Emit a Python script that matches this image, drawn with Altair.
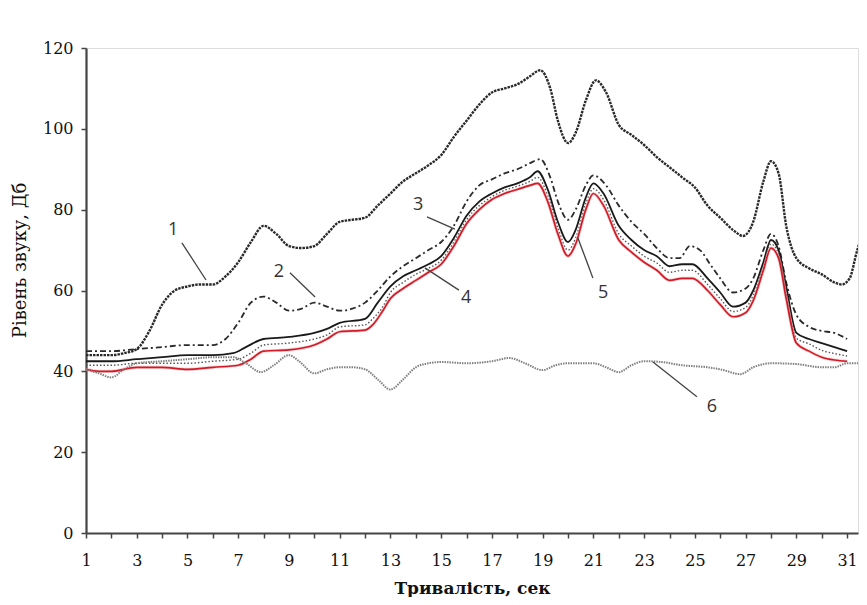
import altair as alt
import pandas as pd

# ---- series data (time, s ; level, dB) ----
t1 = [1, 2, 2.5, 3, 3.5, 4, 4.5, 5, 5.5, 6, 6.5, 7, 7.5, 8, 8.5, 9, 9.5, 10, 10.5, 11,
      11.5, 12, 12.5, 13, 13.5, 14, 14.5, 15, 15.5, 16, 16.5, 17, 17.5, 18, 18.5, 18.9, 19.3, 19.6, 20, 20.3,
      20.7, 21.1, 21.5, 22, 22.5, 23, 23.5, 24, 24.5, 25, 25.5, 26, 26.5, 26.9, 27.3, 27.7, 28, 28.3, 28.6, 29,
      29.5, 30, 30.5, 30.8, 31.1, 31.4, 31.8]
v1 = [44, 44, 44.5, 45.5, 50, 56.5, 60, 61, 61.5, 61.5, 63.5, 67, 72, 76, 74, 71, 70.5, 71, 74, 77,
      77.5, 78, 81, 84, 87, 89, 91, 93.5, 98, 102, 106, 109, 110, 111, 113, 114.5, 110, 102, 96.5, 99,
      107, 112, 109, 101, 98.5, 96, 93, 90.5, 88, 85.5, 81, 78, 75, 73.5, 77, 87, 92, 89, 76, 68,
      65.5, 64, 62, 61.5, 63, 70, 77]

t2 = [1, 2, 3, 4, 5, 6, 6.5, 7, 7.5, 8, 8.5, 9, 9.5, 10, 10.5, 11, 11.5, 12, 12.5, 13,
      13.5, 14, 14.5, 15, 15.5, 16, 16.5, 17, 17.5, 18, 18.5, 18.9, 19.3, 19.6, 20, 20.3, 20.7, 21, 21.5, 22,
      22.5, 23, 23.5, 24, 24.4, 24.8, 25.2, 25.6, 26, 26.5, 27, 27.3, 27.7, 28, 28.3, 28.6, 29, 29.5, 30, 30.5,
      31]
v2 = [45, 45, 45.5, 46, 46.5, 46.5, 48, 52, 57, 58.5, 57, 55, 55.5, 57, 56, 55, 55.5, 57, 60, 63.5,
      66, 68, 70, 72, 76, 82, 86, 87.5, 89, 90, 91.5, 92.5, 88, 82, 77.5, 80, 86, 88.5, 86, 81,
      77, 74, 70.5, 68, 68, 71, 70, 66.5, 63, 59.5, 60.5, 63, 70, 74, 71, 62, 54, 51, 50, 49.5,
      48]

t3 = [1, 2, 3, 4, 5, 6, 6.8, 7.3, 8, 9, 10, 10.5, 11, 12, 12.5, 13, 13.5, 14, 14.5, 15,
      15.5, 16, 16.5, 17, 17.5, 18, 18.5, 18.8, 19.2, 19.6, 20, 20.3, 20.7, 21, 21.4, 22, 22.5, 23, 23.5, 24,
      24.5, 24.9, 25.5, 26, 26.5, 27, 27.3, 27.7, 28, 28.3, 28.6, 29, 29.5, 30, 30.5, 31]
v3 = [42.5, 42.5, 43, 43.5, 44, 44, 44.5, 46, 48, 48.5, 49.5, 50.5, 52, 53, 57, 61, 63.5, 65, 66.5, 68.5,
      73, 78.5, 82, 84, 85.5, 86.5, 88, 89.5, 85, 77, 72, 75, 83, 86.5, 84, 76, 72.5, 70, 68.5, 66,
      66.5, 66.5, 63, 59.5, 56, 57, 60, 67, 72.5, 70, 61, 49.5, 48, 47, 46, 45]

t4 = [1, 1.5, 2, 3, 4, 5, 6, 7, 7.5, 8, 9, 10, 10.5, 11, 12, 12.3, 12.7, 13, 13.5, 14,
      14.5, 15, 15.5, 16, 16.5, 17, 17.5, 18, 18.5, 18.8, 19.2, 19.6, 20, 20.3, 20.7, 21, 21.4, 22, 22.5, 23,
      23.5, 24, 24.5, 24.9, 25.5, 26, 26.5, 27, 27.3, 27.7, 28, 28.3, 28.6, 29, 29.5, 30, 30.5, 31]
v4 = [40.5, 40, 40, 41, 41, 40.5, 41, 41.5, 43, 45, 45.3, 46.5, 48, 49.8, 50.2, 51.5, 55, 58, 60.5, 62.5,
      64.5, 66.5, 71, 76.5, 80, 82.5, 84, 85, 86, 86.5, 82, 74, 68.5, 71.5, 80, 84, 81, 72.5, 69.5, 67,
      65, 62.5, 63, 63, 60, 56.5, 53.5, 54.5, 57.5, 65, 70.5, 68, 58, 47, 45, 43.5, 42.8, 42.5]

t5 = [1, 1.5, 2, 3, 4, 5, 6, 7, 7.5, 8, 9, 10, 10.5, 11, 12, 12.3, 12.7, 13, 13.5, 14,
      14.5, 15, 15.5, 16, 16.5, 17, 17.5, 18, 18.5, 18.8, 19.2, 19.6, 20, 20.3, 20.7, 21, 21.4, 22, 22.5, 23,
      23.5, 24, 24.5, 24.9, 25.5, 26, 26.5, 27, 27.3, 27.7, 28, 28.3, 28.6, 29, 29.5, 30, 30.5, 31]
v5 = [41.5, 41.5, 41.5, 42, 42, 42, 42.5, 43, 44.5, 46.5, 47, 48, 49, 51, 51.5, 53, 56, 59.5, 62, 64,
      65.5, 67.5, 72, 77.5, 81, 83.2, 84.8, 85.8, 87, 88, 83.5, 75.5, 70, 73, 81.5, 85.2, 82.5, 74, 71, 68.5,
      66.8, 64.5, 65, 65, 61.5, 58, 54.8, 55.8, 58.8, 66, 71.5, 69, 59.5, 48.2, 46.8, 45.2, 44.4, 43.8]

t6 = [1, 1.5, 2, 2.5, 3, 4, 5, 6, 6.8, 7.3, 7.9, 8.4, 9, 9.4, 10, 10.5, 11, 11.5, 12, 12.5,
      13, 13.5, 14, 14.5, 15, 16, 17, 17.7, 18.3, 19, 19.5, 20, 21, 21.5, 22, 22.5, 23, 23.7, 24.5, 25.5,
      26, 26.8, 27.3, 28, 29, 30, 30.5, 31, 31.5]
v6 = [40.5, 39.5, 38.5, 40.5, 42, 42.5, 43, 43.5, 43.5, 42, 39.8, 41.5, 44, 42.5, 39.5, 40.5, 41, 41, 40.5, 38,
      35.5, 38, 41, 42, 42.3, 42, 42.5, 43.3, 42, 40.3, 41.5, 42, 42, 41, 39.8, 41.5, 42.5, 42.3, 41.5, 41,
      40.5, 39.3, 41, 42, 41.8, 41, 41, 42, 42]

# ---- curve labels and their leader lines ----
lab_text = ["1", "2", "3", "4", "5", "6"]
lab_t = [4.43, 8.6, 14.09, 15.98, 21.38, 25.67]
lab_v = [75, 64.6, 81.2, 58.2, 59.4, 31.2]
ptr_t1 = [4.78, 9.04, 14.44, 14.36, 20.39, 23.35]
ptr_v1 = [71.8, 64.4, 78.2, 65.6, 73, 42.3]
ptr_t2 = [5.73, 10.03, 15.54, 15.7, 20.98, 25.08]
ptr_v2 = [62.6, 58.4, 75.2, 60.1, 63.1, 33.7]

x_ticks = list(range(1, 32))
y_ticks = [0, 20, 40, 60, 80, 100, 120]

SERIF = "'DejaVu Serif', 'Liberation Serif', serif"

x_enc = alt.X(
    "t:Q",
    scale=alt.Scale(domain=[1, 31.43], nice=False, zero=False),
    axis=alt.Axis(
        values=x_ticks,
        labelExpr="datum.value % 2 == 1 ? datum.label : ''",
        title="Тривалість, сек",
        titleFont=SERIF, titleFontSize=17, titleFontWeight="bold", titleColor="#111",
        titleY=55, titleBaseline="middle", titlePadding=0,
        labelFont=SERIF, labelFontSize=16, labelColor="#111", labelPadding=14,
        labelFlush=False,
        grid=False, domainColor="#444", domainWidth=2.2,
        tickColor="#444", tickWidth=1.5, tickSize=5,
    ),
)
y_enc = alt.Y(
    "v:Q",
    scale=alt.Scale(domain=[0, 120], nice=False, zero=True),
    axis=alt.Axis(
        values=y_ticks,
        title="Рівень звуку, Дб",
        titleFont=SERIF, titleFontSize=18, titleFontWeight="normal", titleColor="#111",
        titleX=-66, titleY=212, titleAngle=-90, titleBaseline="middle", titleAlign="center",
        labelFont=SERIF, labelFontSize=16, labelColor="#111", labelPadding=8,
        grid=False, domainColor="#444", domainWidth=2.2,
        tickColor="#444", tickWidth=1.5, tickSize=5,
    ),
)

styles = [
    (t1, v1, dict(color="#2a2a2a", strokeWidth=2.4, strokeDash=[2.5, 1])),
    (t2, v2, dict(color="#2a2a2a", strokeWidth=1.8, strokeDash=[6, 3, 2, 3])),
    (t3, v3, dict(color="#1a1a1a", strokeWidth=1.8)),
    (t5, v5, dict(color="#555555", strokeWidth=1.4, strokeDash=[1.5, 2])),
    (t4, v4, dict(color="#f0a8ac", strokeWidth=3.2, opacity=0.55)),
    (t4, v4, dict(color="#d01c28", strokeWidth=1.7)),
    (t6, v6, dict(color="#808080", strokeWidth=2.0, strokeDash=[1.5, 1])),
]

layers = []
for ts, vs, st in styles:
    df = pd.DataFrame({"t": ts, "v": vs})
    layers.append(
        alt.Chart(df).mark_line(interpolate="monotone", clip=True, **st).encode(x=x_enc, y=y_enc)
    )

ptr_df = pd.DataFrame({"t": ptr_t1, "v": ptr_v1, "t2": ptr_t2, "v2": ptr_v2})
layers.append(
    alt.Chart(ptr_df).mark_rule(color="#444", strokeWidth=1.3).encode(
        x=x_enc, y=y_enc, x2="t2:Q", y2="v2:Q"
    )
)

lab_df = pd.DataFrame({"t": lab_t, "v": lab_v, "label": lab_text})
layers.append(
    alt.Chart(lab_df).mark_text(
        font="Open Sans", fontSize=18, color="#333", align="center", baseline="middle"
    ).encode(x=x_enc, y=y_enc, text="label:N")
)

chart = alt.layer(*layers).properties(
    width=772,
    height=485,
    autosize=alt.AutoSizeParams(type="none"),
    padding={"left": 78, "top": 40, "right": 1, "bottom": 64},
).configure_view(stroke=None).configure(background="white")

chart.save("out.html", embed_options={"renderer": "svg", "actions": False})
